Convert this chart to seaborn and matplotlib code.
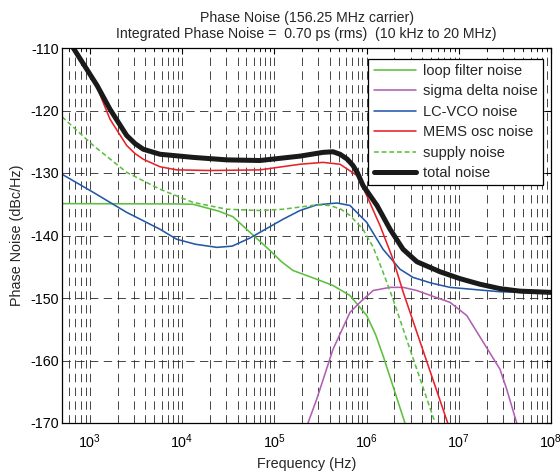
import numpy as np
import pandas as pd
import matplotlib
matplotlib.use("Agg")
import matplotlib.pyplot as plt
import seaborn as sns
from matplotlib.ticker import LogLocator

# ---- data ----
loop_f = [500, 9000, 13150, 18650, 25000, 35710, 54580, 89950, 120000, 159600, 288400, 433500, 662200, 1.005e6, 1.25e6, 1.51e6, 2.61e6]
loop_db = [-134.9, -134.95, -135.0, -135.6, -136.1, -137.0, -139.5, -142.4, -144.2, -145.6, -147.0, -148.0, -149.6, -152.8, -155.8, -159.2, -170.0]

sd_f = [232000, 288400, 433500, 662200, 849000, 1.18e6, 1.80e6, 2.5e6, 3.50e6, 8.04e6, 1.22e7, 1.83e7, 2.8e7, 3.31e7, 4.25e7]
sd_db = [-170.0, -166.2, -158.2, -152.3, -150.7, -148.8, -148.3, -148.3, -148.8, -150.7, -152.8, -157.0, -161.4, -164.6, -170.0]

vco_f = [500, 1092, 2514, 5773, 8757, 14000, 23930, 35000, 54580, 124400, 190100, 288400, 478600, 662200, 1.005e6, 1.51e6, 2.31e6, 3.19e6, 5.0e6, 8.04e6, 2.8e7, 1e8]
vco_db = [-130.2, -133.1, -136.3, -139.0, -140.6, -141.4, -141.9, -141.7, -140.4, -137.4, -136.0, -135.1, -134.8, -135.2, -137.9, -142.2, -145.4, -146.7, -147.6, -148.3, -149.0, -149.2]

mems_f = [663, 1200, 1657, 2514, 3100, 3805, 5773, 8757, 20100, 70000, 190100, 337300, 516400, 788900, 1.005e6, 1.40e6, 1.94e6, 2.49e6, 7.59e6]
mems_db = [-110.0, -116.3, -121.4, -125.6, -126.9, -127.8, -129.0, -129.5, -129.6, -129.5, -128.6, -128.3, -128.6, -130.4, -133.6, -138.4, -143.8, -149.0, -170.0]

supply_f = [500, 1092, 2514, 5773, 13150, 30740, 70000, 124400, 288400, 401800, 530000, 662200, 916000, 1.175e6, 1.47e6, 1.94e6, 2.96e6, 5.52e6]
supply_db = [-121.0, -125.6, -129.9, -132.6, -134.7, -135.8, -136.0, -135.8, -135.1, -135.2, -135.8, -136.8, -139.0, -141.8, -145.4, -150.2, -158.2, -169.9]

total_f = [663, 1200, 1657, 2514, 3100, 3805, 5773, 13150, 30740, 70000, 190100, 337300, 433500, 516400, 620000, 713300, 800000, 916000, 1.30e6, 1.80e6, 2.49e6, 3.52e6, 6.27e6, 1.03e7, 1.7e7, 2.8e7, 4.6e7, 1e8]
total_db = [-110.0, -116.0, -119.8, -124.0, -125.3, -126.2, -127.0, -127.5, -127.9, -128.0, -127.3, -126.7, -126.6, -127.0, -127.8, -128.8, -130.0, -132.0, -135.2, -139.0, -142.2, -144.2, -145.8, -146.9, -147.8, -148.5, -148.9, -149.1]

labels = ["loop filter noise", "sigma delta noise", "LC-VCO noise", "MEMS osc noise", "supply noise", "total noise"]
title_lines = ["Phase Noise (156.25 MHz carrier)",
               "Integrated Phase Noise =  0.70 ps (rms)  (10 kHz to 20 MHz)"]

series = [
    (loop_f, loop_db, labels[0], "#5dbf3f", "-", 1.15),
    (sd_f, sd_db, labels[1], "#b060b4", "-", 1.15),
    (vco_f, vco_db, labels[2], "#2358a6", "-", 1.15),
    (mems_f, mems_db, labels[3], "#e8202a", "-", 1.15),
    (supply_f, supply_db, labels[4], "#5dbf3f", "--", 1.15),
    (total_f, total_db, labels[5], "#1a1a1a", "-", 3.6),
]

sns.set_style("white")
plt.rcParams['font.family'] = ['Liberation Sans', 'DejaVu Sans']
plt.rcParams['mathtext.default'] = 'regular'
plt.rcParams['axes.unicode_minus'] = False

fig = plt.figure(figsize=(5.6, 4.72), dpi=100)
ax = fig.add_axes([62/560, 1-423/472, (551-62)/560, (423-48)/472])

for f, db, lab, col, ls, lw in series:
    df = pd.DataFrame({"f": f, "db": db})
    sns.lineplot(data=df, x="f", y="db", ax=ax, color=col, linewidth=lw,
                 label=lab, sort=False, estimator=None)
    ln = ax.lines[-1]
    ln.set_solid_joinstyle("round")
    if ls == "--":
        ln.set_linestyle("--")
        ln.set_dashes((3, 1.8))

ax.set_xscale("log")
ax.set_xlim(500, 1e8)
ax.set_ylim(-170, -110)
ax.set_yticks(np.arange(-170, -109, 10))
ax.xaxis.set_major_locator(LogLocator(base=10, numticks=20))
ax.xaxis.set_minor_locator(LogLocator(base=10, subs=np.arange(2, 10), numticks=20))

gstyle = dict(color="0.15", linestyle=(0, (10, 6.5)), linewidth=0.6)
ax.grid(True, which="major", axis="both", **gstyle)
ax.grid(True, which="minor", axis="x", **gstyle)

ax.tick_params(which="both", direction="in", top=True, right=True, labelsize=10.3, colors="black")
ax.tick_params(which="major", length=4, width=0.8)
ax.tick_params(which="minor", length=2.5, width=0.6)
ax.tick_params(axis="x", which="major", pad=7)
ax.tick_params(axis="y", which="major", pad=2)
for s in ax.spines.values():
    s.set_color("black")
    s.set_linewidth(0.9)

ax.set_xlabel("Frequency (Hz)", fontsize=10.4, labelpad=4)
ax.set_ylabel("Phase Noise (dBc/Hz)", fontsize=10.4, labelpad=5)
ax.set_title("\n".join(title_lines), fontsize=10.2, linespacing=1.25, pad=7)

leg = ax.legend(loc="upper right", bbox_to_anchor=(0.9836, 0.971), borderaxespad=0,
                fontsize=10.5, frameon=True, fancybox=False, framealpha=1,
                edgecolor="black", handlelength=2.9, labelspacing=0.44,
                borderpad=0.35, handletextpad=0.5)
leg.get_frame().set_linewidth(0.9)

fig.savefig("out.png", dpi=100, facecolor="white")
